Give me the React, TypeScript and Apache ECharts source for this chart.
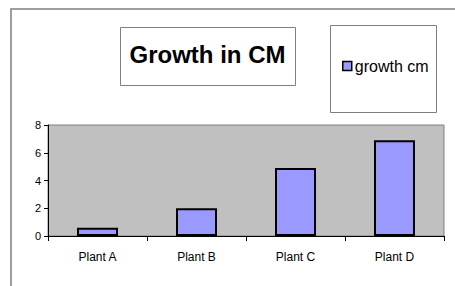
import React, { useEffect, useRef } from "react";
import * as echarts from "echarts";

const categories = ["Plant A", "Plant B", "Plant C", "Plant D"];
const growthValues = [0.6, 2, 4.9, 6.9];
const seriesName = "growth cm";
const titleText = "Growth in CM";

export default function App() {
  const ref = useRef<HTMLDivElement>(null);
  useEffect(() => {
    document.body.style.margin = "0";
    const chart = echarts.init(ref.current!, null, { renderer: "svg" });
    chart.setOption({
      animation: false,
      backgroundColor: "#ffffff",
      textStyle: { fontFamily: "Liberation Sans, Arial, sans-serif" },
      graphic: [
        {
          type: "rect",
          shape: { x: 11, y: 9, width: 470, height: 300 },
          style: { fill: "none", stroke: "#7f7f7f", lineWidth: 1.5 },
          silent: true,
          z: -1,
        },
        {
          type: "rect",
          shape: { x: 120.5, y: 27.5, width: 175, height: 58 },
          style: { fill: "#fff", stroke: "#7f7f7f", lineWidth: 1 },
          silent: true,
          z: -1,
        },
        {
          type: "rect",
          shape: { x: 330.5, y: 25.5, width: 106, height: 87 },
          style: { fill: "#fff", stroke: "#7f7f7f", lineWidth: 1 },
          silent: true,
          z: -1,
        },
      ],
      title: {
        text: titleText,
        left: 207.5,
        top: 42,
        textAlign: "center",
        padding: 0,
        textStyle: {
          fontFamily: "Liberation Sans, Arial, sans-serif",
          fontWeight: "bold",
          fontSize: 24,
          color: "#000",
        },
      },
      legend: {
        data: [seriesName],
        left: 342,
        top: 58,
        padding: 0,
        icon: "rect",
        itemWidth: 9,
        itemHeight: 9,
        itemGap: 4,
        itemStyle: { borderColor: "#000", borderWidth: 1.5 },
        textStyle: {
          fontFamily: "Liberation Sans, Arial, sans-serif",
          fontSize: 16,
          color: "#000",
          padding: [0, 0, 0, -2],
        },
      },
      grid: {
        left: 48,
        top: 125,
        right: 11,
        bottom: 50,
        show: true,
        backgroundColor: "#c0c0c0",
        borderColor: "#808080",
        borderWidth: 1,
      },
      xAxis: {
        type: "category",
        data: categories,
        axisLine: { lineStyle: { color: "#000", width: 1 } },
        axisTick: { show: true, length: 5, lineStyle: { color: "#000" } },
        axisLabel: {
          fontFamily: "Liberation Sans, Arial, sans-serif",
          fontSize: 12,
          color: "#000",
          margin: 15,
        },
      },
      yAxis: {
        type: "value",
        min: 0,
        max: 8,
        interval: 2,
        axisLine: { show: true, lineStyle: { color: "#000", width: 1 } },
        axisTick: { show: true, length: 4, lineStyle: { color: "#000" } },
        splitLine: { show: false },
        axisLabel: {
          fontFamily: "Liberation Sans, Arial, sans-serif",
          fontSize: 11,
          color: "#000",
          margin: 7,
        },
      },
      series: [
        {
          name: seriesName,
          type: "bar",
          data: growthValues,
          barWidth: 41,
          itemStyle: { color: "#9999ff", borderColor: "#000", borderWidth: 2 },
        },
      ],
    });
    return () => chart.dispose();
  }, []);
  return (
    <div
      ref={ref}
      style={{ position: "absolute", left: 0, top: 0, width: 455, height: 286 }}
    />
  );
}
